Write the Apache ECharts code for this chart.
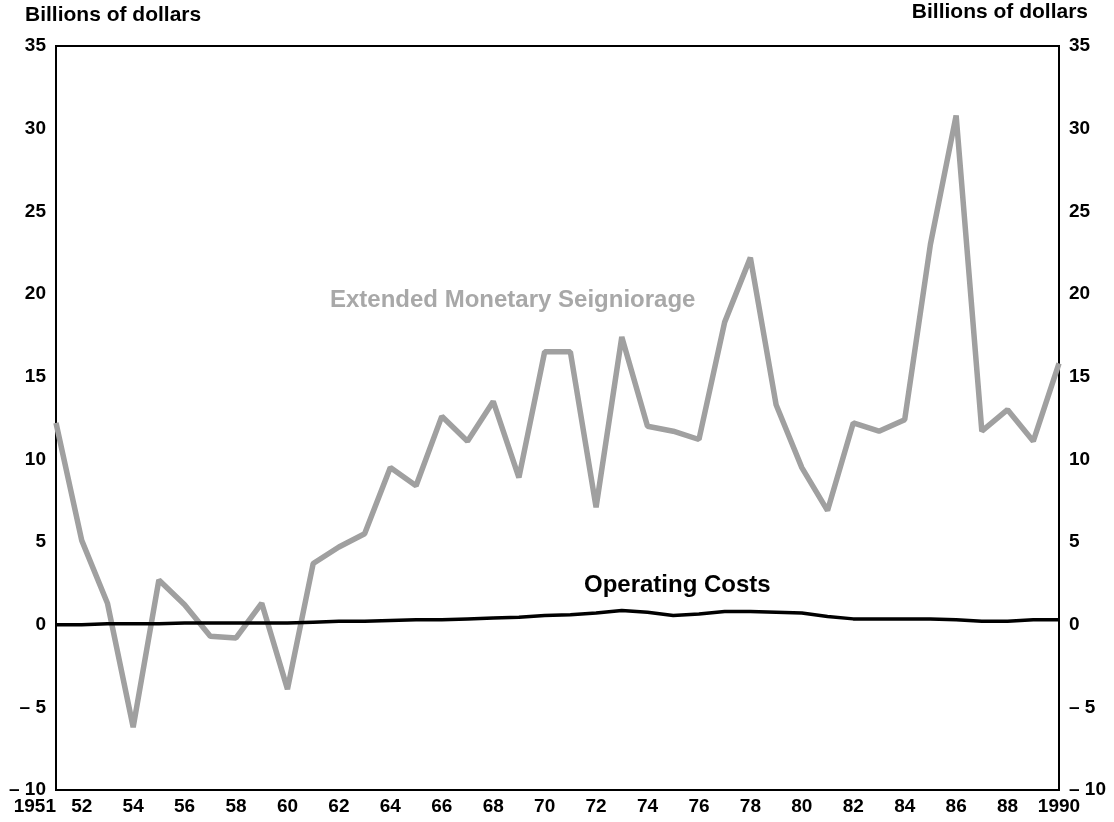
<!DOCTYPE html>
<html>
<head>
<meta charset="utf-8">
<title>Extended Monetary Seigniorage</title>
<script src="https://cdn.jsdelivr.net/npm/echarts/dist/echarts.min.js"></script>
<style>
    html, body {margin: 0; padding: 0; background: #fff;}
    #chart {width: 1114px; height: 822px;}
</style>
</head>
<body>
<div id="chart"></div>
<script>
// values, billions of dollars
var years = [];
for (var y = 1951; y <= 1990; y++) {
    years.push(y);
}

var seigniorage = [
    12.2, 5.1, 1.3, -6.2, 2.7, 1.2, -0.7, -0.8, 1.3, -3.9,
    3.7, 4.7, 5.5, 9.5, 8.4, 12.6, 11.1, 13.5, 8.9, 16.5,
    16.5, 7.1, 17.4, 12.0, 11.7, 11.2, 18.3, 22.2, 13.3, 9.5,
    6.9, 12.2, 11.7, 12.4, 23.0, 30.8, 11.7, 13.0, 11.1, 15.8
];

var operatingCosts = [
    0.0, 0.0, 0.05, 0.05, 0.05, 0.1, 0.1, 0.1, 0.1, 0.1,
    0.15, 0.2, 0.2, 0.25, 0.3, 0.3, 0.35, 0.4, 0.45, 0.55,
    0.6, 0.7, 0.85, 0.75, 0.55, 0.65, 0.8, 0.8, 0.75, 0.7,
    0.5, 0.35, 0.35, 0.35, 0.35, 0.3, 0.2, 0.2, 0.3, 0.3
];

// which years get a label on the bottom axis
var yearLabels = {
    1951: '1951', 1952: '52', 1954: '54', 1956: '56', 1958: '58', 1960: '60',
    1962: '62', 1964: '64', 1966: '66', 1968: '68', 1970: '70', 1972: '72',
    1974: '74', 1976: '76', 1978: '78', 1980: '80', 1982: '82', 1984: '84',
    1986: '86', 1988: '88', 1990: '1990'
};

var FONT = '"Liberation Sans", Arial, sans-serif';

function pairs(values) {
    return years.map(function (yr, i) {
        return [yr, values[i]];
    });
}

function yLabel(v) {
    return v < 0 ? '\u2013 ' + Math.abs(v) : String(v);
}

function valueAxis(pos) {
    return {
        type: 'value',
        position: pos,
        min: -10,
        max: 35,
        interval: 5,
        axisLine: {show: false},
        axisTick: {show: false},
        splitLine: {show: false},
        axisLabel: {
            margin: 10,
            color: '#000',
            fontFamily: FONT,
            fontWeight: 'bold',
            fontSize: 19,
            formatter: yLabel
        }
    };
}

var chart = echarts.init(document.getElementById('chart'));

chart.setOption({
    backgroundColor: '#fff',
    animation: false,
    grid: {
        left: 56,
        right: 55,
        top: 46,
        bottom: 32,
        show: true,
        borderColor: '#000',
        borderWidth: 2
    },
    xAxis: {
        type: 'value',
        min: 1951,
        max: 1990,
        interval: 1,
        axisLine: {show: false},
        axisTick: {show: false},
        splitLine: {show: false},
        axisLabel: {
            margin: 7,
            color: '#000',
            fontFamily: FONT,
            fontWeight: 'bold',
            fontSize: 19,
            alignMinLabel: 'right',
            formatter: function (v) {
                return yearLabels[v] || '';
            }
        }
    },
    yAxis: [valueAxis('left'), valueAxis('right')],
    series: [
        {
            name: 'Extended Monetary Seigniorage',
            type: 'line',
            data: pairs(seigniorage),
            showSymbol: false,
            lineStyle: {color: '#a0a0a0', width: 5.5, join: 'bevel'},
            z: 2
        },
        {
            name: 'Operating Costs',
            type: 'line',
            data: pairs(operatingCosts),
            showSymbol: false,
            lineStyle: {color: '#000', width: 3.5},
            z: 3
        }
    ],
    graphic: [
        {
            type: 'text', left: 25, top: 5,
            style: {text: 'Billions of dollars', fill: '#000', font: 'bold 21px ' + FONT}
        },
        {
            type: 'text', right: 26, top: 2,
            style: {text: 'Billions of dollars', fill: '#000', font: 'bold 21px ' + FONT}
        },
        {
            type: 'text', left: 330, top: 288,
            style: {text: 'Extended Monetary Seigniorage', fill: '#a8a8a8', font: 'bold 24px ' + FONT}
        },
        {
            type: 'text', left: 584, top: 573,
            style: {text: 'Operating Costs', fill: '#000', font: 'bold 24px ' + FONT}
        }
    ]
});
</script>
</body>
</html>
